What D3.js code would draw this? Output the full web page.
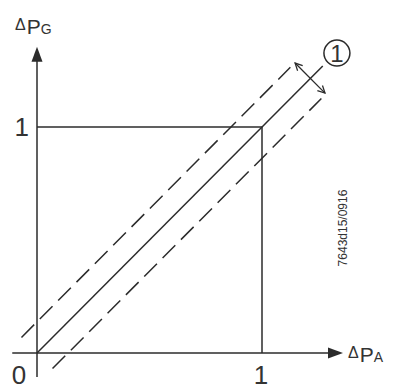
<!DOCTYPE html>
<html>
<head>
<meta charset="utf-8">
<script src="https://cdn.jsdelivr.net/npm/d3@7"></script>
<style>
  body { margin: 0; background: #fff; }
</style>
</head>
<body>
<svg width="398" height="389" font-family="'Liberation Sans', Arimo, Arial, sans-serif"></svg>
<script>
// data (unit-less pressure ratios)
const axisX = [-0.11, 1.36];      // x axis extent, arrow at the end
const axisY = [-0.106, 1.355];    // y axis extent, arrow at the end
const unitLines = [
  [[0, 1], [1, 1]],
  [[1, 1], [1, 0]]
];
const diagonal = [[0, 0], [1.27, 1.27]];
const bandOffset = 0.069;          // tolerance band half-width
const bandEnd = 1.195;
const tolArrow = [[1.147, 1.283], [1.28, 1.15]];
const marker = {x: 1.333, y: 1.327, label: '1'};
const xTicks = [{v: 1, label: '1'}];
const yTicks = [{v: 1, label: '1'}];
const code = '7643d15/0916';

const svg = d3.select('svg');
const ink = '#2b2b2b';
const textInk = '#333';

const x = d3.scaleLinear().domain([0, 1]).range([37, 262]);
const y = d3.scaleLinear().domain([0, 1]).range([353, 127]);

const line = d3.line().x(d => x(d[0])).y(d => y(d[1]));

// axes
svg.append('line')
  .attr('x1', x(axisX[0])).attr('x2', x(axisX[1]) - 12)
  .attr('y1', y(0)).attr('y2', y(0))
  .attr('stroke', ink).attr('stroke-width', 1.5);
svg.append('path')
  .attr('d', `M${x(axisX[1])},${y(0)} l-15,-5.5 l0,11 z`)
  .attr('fill', ink);

svg.append('line')
  .attr('x1', x(0)).attr('x2', x(0))
  .attr('y1', y(axisY[0])).attr('y2', y(axisY[1]) + 12)
  .attr('stroke', ink).attr('stroke-width', 1.5);
svg.append('path')
  .attr('d', `M${x(0)},${y(axisY[1])} l-5.5,15 l11,0 z`)
  .attr('fill', ink);

// unit square lines
svg.selectAll('.unit')
  .data(unitLines)
  .enter().append('path')
    .attr('class', 'unit')
    .attr('d', line)
    .attr('fill', 'none')
    .attr('stroke', ink)
    .attr('stroke-width', 1.5);

// diagonal and tolerance band
svg.append('path')
  .attr('d', line(diagonal))
  .attr('fill', 'none')
  .attr('stroke', ink)
  .attr('stroke-width', 1.5);

const band = [-1, 1].map(s => [
  [-s * bandOffset, s * bandOffset],
  [bandEnd - s * bandOffset, bandEnd + s * bandOffset]
]);
svg.selectAll('.band')
  .data(band)
  .enter().append('path')
    .attr('class', 'band')
    .attr('d', line)
    .attr('fill', 'none')
    .attr('stroke', ink)
    .attr('stroke-width', 1.5)
    .attr('stroke-dasharray', '18,8');

// double arrow across the band
const defs = svg.append('defs');
defs.append('marker')
  .attr('id', 'open')
  .attr('viewBox', '0 0 10 10')
  .attr('refX', 9).attr('refY', 5)
  .attr('markerWidth', 9).attr('markerHeight', 9)
  .attr('markerUnits', 'userSpaceOnUse')
  .attr('orient', 'auto-start-reverse')
  .append('path')
    .attr('d', 'M1,1 L9,5 L1,9')
    .attr('fill', 'none')
    .attr('stroke', ink)
    .attr('stroke-width', 1.4);

svg.append('path')
  .attr('d', line(tolArrow))
  .attr('fill', 'none')
  .attr('stroke', ink)
  .attr('stroke-width', 1.3)
  .attr('marker-start', 'url(#open)')
  .attr('marker-end', 'url(#open)');

// numbered marker
svg.append('circle')
  .attr('cx', x(marker.x)).attr('cy', y(marker.y)).attr('r', 13)
  .attr('fill', '#fff')
  .attr('stroke', ink)
  .attr('stroke-width', 1.5);
svg.append('text')
  .attr('x', x(marker.x)).attr('y', y(marker.y) + 8.5)
  .attr('text-anchor', 'middle')
  .attr('font-size', 24)
  .attr('fill', textInk)
  .text(marker.label);

// tick labels
svg.selectAll('.xt')
  .data(xTicks)
  .enter().append('text')
    .attr('class', 'xt')
    .attr('x', d => x(d.v) - 1)
    .attr('y', 384)
    .attr('text-anchor', 'middle')
    .attr('font-size', 26)
    .attr('fill', textInk)
    .text(d => d.label);

svg.selectAll('.yt')
  .data(yTicks)
  .enter().append('text')
    .attr('class', 'yt')
    .attr('x', 29)
    .attr('y', d => y(d.v) + 9)
    .attr('text-anchor', 'end')
    .attr('font-size', 26)
    .attr('fill', textInk)
    .text(d => d.label);

svg.append('text')
  .attr('x', 19).attr('y', 384)
  .attr('text-anchor', 'middle')
  .attr('font-size', 26)
  .attr('fill', textInk)
  .text('0');

// axis titles
function title(x0, base, sub) {
  const t = svg.append('text').attr('x', x0).attr('y', base).attr('fill', textInk);
  t.append('tspan').attr('font-size', 16).attr('dy', -4).text('Δ');
  t.append('tspan').attr('font-size', 21).attr('dy', 4).attr('dx', 1).text('P');
  t.append('tspan').attr('font-size', 14).text(sub);
}
title(15, 34, 'G');
title(348, 362, 'A');

// drawing code
svg.append('text')
  .attr('transform', 'translate(347,228) rotate(-90)')
  .attr('text-anchor', 'middle')
  .attr('font-size', 12)
  .attr('fill', textInk)
  .text(code);
</script>
</body>
</html>
